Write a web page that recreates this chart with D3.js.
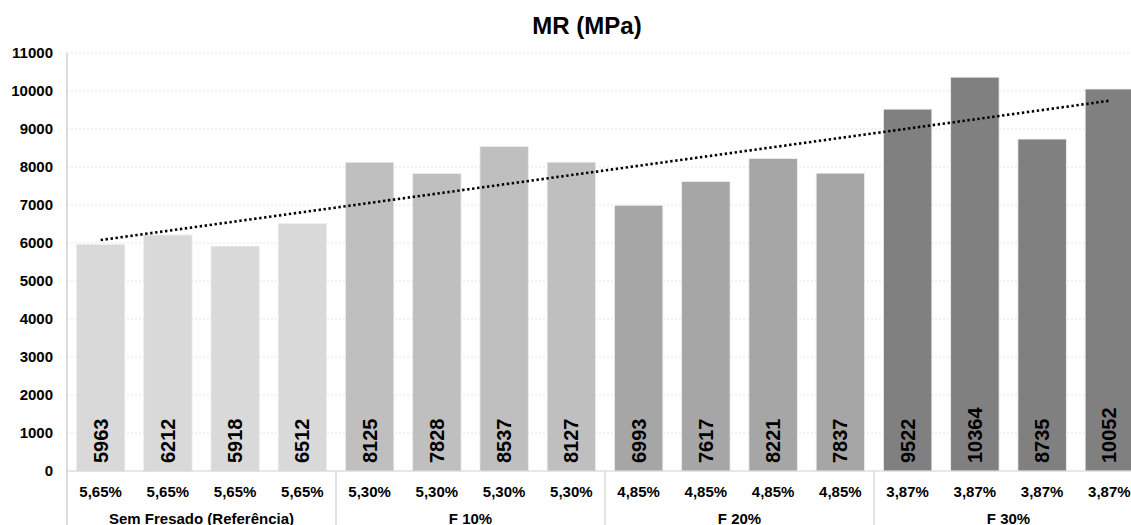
<!DOCTYPE html>
<html>
<head>
<meta charset="utf-8">
<script src="https://cdn.jsdelivr.net/npm/d3@7"></script>
<style>
  body { margin: 0; background: #fff; overflow: hidden; }
  text { font-family: "Liberation Sans", Arial, sans-serif; font-weight: bold; fill: #000; }
</style>
</head>
<body>
<script>
// chart data
let groups = ["Sem Fresado (Referência)", "F 10%", "F 20%", "F 30%"];
let teores = ["5,65%", "5,65%", "5,65%", "5,65%", "5,30%", "5,30%", "5,30%", "5,30%",
              "4,85%", "4,85%", "4,85%", "4,85%", "3,87%", "3,87%", "3,87%", "3,87%"];
let mrValues = [5963, 6212, 5918, 6512, 8125, 7828, 8537, 8127,
                6993, 7617, 8221, 7837, 9522, 10364, 8735, 10052];
let groupColors = ["#d9d9d9", "#bfbfbf", "#a6a6a6", "#808080"];
let yTicks = [0, 1000, 2000, 3000, 4000, 5000, 6000, 7000, 8000, 9000, 10000, 11000];

let width = 1131, height = 525;
let plotLeft = 67, plotRight = 1143, plotTop = 53, plotBottom = 471;

let svg = d3.select("body").append("svg")
  .attr("width", width)
  .attr("height", height);

let idx = d3.range(mrValues.length);
let x = d3.scaleBand().domain(idx).range([plotLeft, plotRight]).paddingInner(0.28).paddingOuter(0.14);
let step = x.step();
let y = d3.scaleLinear().domain([0, 11000]).range([plotBottom, plotTop]);

// gridlines
svg.append("g").selectAll("line").data(yTicks.slice(1)).join("line")
  .attr("x1", plotLeft).attr("x2", width)
  .attr("y1", d => y(d)).attr("y2", d => y(d))
  .attr("stroke", "#e3e3e3").attr("stroke-dasharray", "2,2");

// y axis labels
let yAxis = d3.axisLeft(y).tickValues(yTicks).tickFormat(d3.format("d")).tickSize(0).tickPadding(14);
let ya = svg.append("g").attr("transform", `translate(${plotLeft},0)`).call(yAxis);
ya.select(".domain").remove();
ya.selectAll("text").style("font-size", "15px").style("font-family", "Liberation Sans, Arial, sans-serif").style("font-weight", "bold").attr("fill", "#000");

// bars
svg.append("g").selectAll("rect").data(idx).join("rect")
  .attr("x", i => x(i))
  .attr("y", i => y(mrValues[i]))
  .attr("width", x.bandwidth())
  .attr("height", i => y(0) - y(mrValues[i]))
  .attr("fill", i => groupColors[Math.floor(i / 4)])
  .attr("stroke", "#eeeeee").attr("stroke-width", 0.8);

// value labels (rotated)
svg.append("g").selectAll("text").data(idx).join("text")
  .attr("transform", i => `translate(${x(i) + x.bandwidth() / 2 + 7},${plotBottom - 8}) rotate(-90)`)
  .attr("text-anchor", "start")
  .style("font-size", "20px")
  .text(i => mrValues[i]);

// linear trendline
let n = mrValues.length;
let mx = d3.mean(idx), my = d3.mean(mrValues);
let slope = d3.sum(idx, i => (i - mx) * (mrValues[i] - my)) / d3.sum(idx, i => (i - mx) * (i - mx));
let icpt = my - slope * mx;
svg.append("line")
  .attr("x1", x(0) + x.bandwidth() / 2).attr("y1", y(icpt))
  .attr("x2", x(n - 1) + x.bandwidth() / 2).attr("y2", y(icpt + slope * (n - 1)))
  .attr("stroke", "#000").attr("stroke-width", 2.6)
  .attr("stroke-dasharray", "2.4,2.6");

// axes lines
svg.append("line").attr("x1", plotLeft).attr("x2", width).attr("y1", plotBottom).attr("y2", plotBottom)
  .attr("stroke", "#d0d0d0").attr("stroke-width", 1.2);
svg.append("line").attr("x1", plotLeft).attr("x2", plotLeft).attr("y1", plotTop).attr("y2", height)
  .attr("stroke", "#d0d0d0").attr("stroke-width", 1.5);

// group separators
svg.append("g").selectAll("line").data([1, 2, 3]).join("line")
  .attr("x1", g => plotLeft + g * 4 * step).attr("x2", g => plotLeft + g * 4 * step)
  .attr("y1", plotBottom).attr("y2", height)
  .attr("stroke", "#d0d0d0").attr("stroke-width", 1.2);

// percentage labels
svg.append("g").selectAll("text").data(idx).join("text")
  .attr("x", i => x(i) + x.bandwidth() / 2)
  .attr("y", 497)
  .attr("text-anchor", "middle")
  .style("font-size", "15px")
  .text(i => teores[i]);

// group labels
svg.append("g").selectAll("text").data(groups).join("text")
  .attr("x", (g, k) => plotLeft + (k * 4 + 2) * step)
  .attr("y", 524)
  .attr("text-anchor", "middle")
  .style("font-size", "15px")
  .text(g => g);

// title
svg.append("text")
  .attr("x", 587).attr("y", 34)
  .attr("text-anchor", "middle")
  .style("font-size", "24px")
  .text("MR (MPa)");
</script>
</body>
</html>
